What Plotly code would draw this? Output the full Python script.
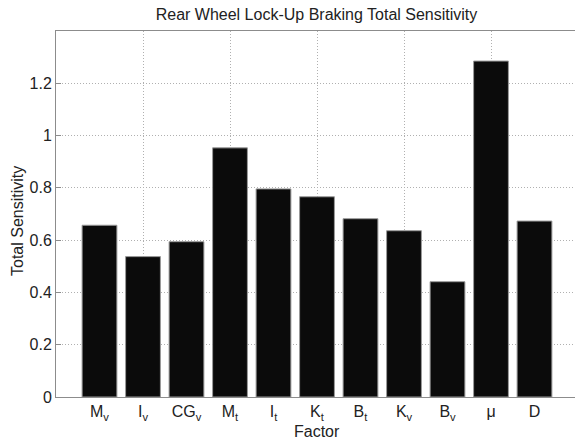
import plotly.graph_objects as go

factors = ["M<sub>v</sub>", "I<sub>v</sub>", "CG<sub>v</sub>", "M<sub>t</sub>", "I<sub>t</sub>",
           "K<sub>t</sub>", "B<sub>t</sub>", "K<sub>v</sub>", "B<sub>v</sub>", "μ", "D"]
positions = [1, 2, 3, 4, 5, 6, 7, 8, 9, 10, 11]
sensitivity = [0.657, 0.537, 0.594, 0.953, 0.796, 0.766, 0.682, 0.636, 0.441, 1.285, 0.673]
y_ticks = [0, 0.2, 0.4, 0.6, 0.8, 1, 1.2]
y_tick_text = ["0", "0.2", "0.4", "0.6", "0.8", "1", "1.2"]
grid_x = [2, 4, 6, 8, 10]

FONT = "Liberation Sans, Arial, sans-serif"
TXT = "#222222"
W, H = 575, 444
L, R, T, B = 56, 0, 31, 47
PW, PH = W - L - R, H - T - B
unit = 43.5
x_max = PW / unit

fig = go.Figure(go.Bar(
    x=positions, y=sensitivity, width=0.8,
    marker=dict(color="#0b0b0b", line=dict(color="#9a9a9a", width=1)),
))

fig.update_layout(
    width=W, height=H,
    margin=dict(l=L, r=R, t=T, b=B, autoexpand=False),
    paper_bgcolor="white", plot_bgcolor="white",
    showlegend=False,
    font=dict(family=FONT, size=16, color=TXT),
    title=dict(text="Rear Wheel Lock-Up Braking Total Sensitivity",
               x=(316.5 - L) / PW, xref="paper", xanchor="center",
               y=1 - 14 / H, yanchor="middle",
               font=dict(family=FONT, size=16, color=TXT)),
    annotations=[
        dict(text="Factor", xref="paper", yref="paper",
             x=(316.5 - L) / PW, y=-(431 - (T + PH)) / PH,
             xanchor="center", yanchor="middle", showarrow=False,
             font=dict(family=FONT, size=16, color=TXT)),
        dict(text="Total Sensitivity", xref="paper", yref="paper",
             x=-(L - 17) / PW, y=(T + PH - 221) / PH,
             xanchor="center", yanchor="middle", showarrow=False, textangle=-90,
             font=dict(family=FONT, size=16, color=TXT)),
    ],
)

fig.update_xaxes(
    automargin=False,
    range=[0, x_max],
    tickmode="array", tickvals=positions, ticktext=factors,
    ticks="", showgrid=False,
    showline=True, linecolor="#8c8c8c", linewidth=1, mirror=True,
    layer="below traces",
    minor=dict(tickmode="array", tickvals=grid_x, ticks="inside", ticklen=5,
               tickcolor="#8c8c8c", showgrid=True, gridcolor="#b0b0b0",
               griddash="1px,2px", gridwidth=1),
    tickfont=dict(size=16),
    zeroline=False,
)

fig.update_yaxes(
    automargin=False,
    range=[0, 1.4],
    tickmode="array", tickvals=y_ticks, ticktext=y_tick_text,
    ticks="inside", ticklen=5, tickcolor="#8c8c8c",
    showgrid=True, gridcolor="#b0b0b0", griddash="1px,2px", gridwidth=1,
    showline=True, linecolor="#8c8c8c", linewidth=1, mirror=False,
    layer="below traces",
    tickfont=dict(size=16),
    zeroline=False,
)

fig.write_html("out.html",
               config={"displayModeBar": False},
               post_script="document.body.style.margin='0';document.body.style.overflow='hidden';")
